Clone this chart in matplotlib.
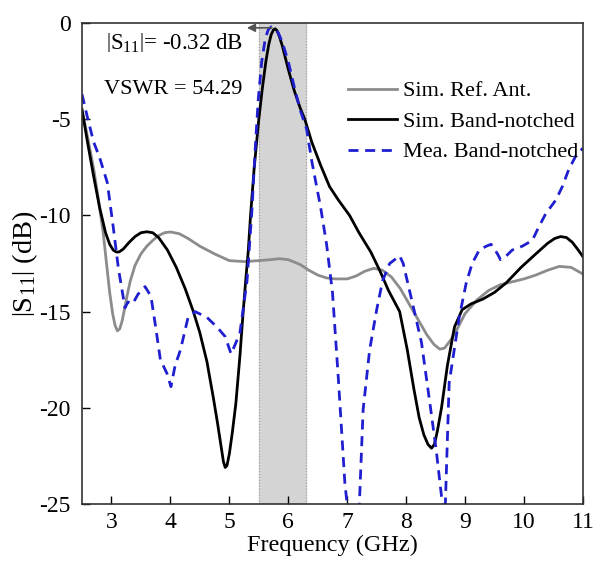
import numpy as np
import matplotlib
matplotlib.use('Agg')
import matplotlib.pyplot as plt

plt.rcParams['font.family'] = ['Liberation Serif', 'DejaVu Serif']
plt.rcParams['mathtext.fontset'] = 'custom'
plt.rcParams['mathtext.rm'] = 'Liberation Serif'
plt.rcParams['mathtext.it'] = 'Liberation Serif:italic'
plt.rcParams['axes.unicode_minus'] = False

# simulated reference antenna
ref_f = [2.5, 2.6, 2.7, 2.78, 2.86, 2.92, 2.97, 3.02, 3.06, 3.1, 3.14, 3.18, 3.22, 3.27, 3.32, 3.4,
         3.5, 3.6, 3.7, 3.8, 3.9, 4.0, 4.15, 4.3, 4.5, 4.75, 5.0, 5.25, 5.5, 5.7, 5.85, 6.0,
         6.2, 6.35, 6.5, 6.65, 6.8, 7.0, 7.15, 7.3, 7.45, 7.6, 7.75, 7.9, 8.05, 8.2, 8.35,
         8.47, 8.57, 8.65, 8.75, 8.85, 9.0, 9.2, 9.4, 9.6, 9.8, 10.0, 10.2, 10.4, 10.6, 10.8, 11.0]
ref_s = [-4.5, -6.0, -7.6, -9.2, -10.9, -12.6, -14.0, -15.1, -15.7, -16.0, -15.9, -15.5, -14.9, -14.1, -13.4, -12.6,
         -12.0, -11.6, -11.3, -11.05, -10.9, -10.86, -10.95, -11.2, -11.6, -12.0, -12.35, -12.4, -12.35, -12.3, -12.25, -12.3,
         -12.55, -12.85, -13.1, -13.25, -13.3, -13.3, -13.15, -12.9, -12.75, -12.85, -13.2, -13.8, -14.6, -15.4, -16.2,
         -16.7, -16.95, -16.9, -16.5, -16.0, -15.1, -14.4, -13.9, -13.6, -13.45, -13.3, -13.1, -12.85, -12.65, -12.7, -13.05]

# simulated band-notched antenna
sim_f = [2.5, 2.6, 2.7, 2.8, 2.9, 2.97, 3.03, 3.08, 3.13, 3.2, 3.3, 3.4, 3.5, 3.6, 3.7, 3.8, 3.95,
         4.1, 4.25, 4.39, 4.5, 4.62, 4.73, 4.8, 4.86, 4.9, 4.93, 4.96, 5.0, 5.05, 5.11, 5.18,
         5.23, 5.28, 5.32, 5.36, 5.42, 5.5, 5.56, 5.62, 5.67, 5.71, 5.75, 5.78, 5.81, 5.85,
         5.9, 6.0, 6.1, 6.2, 6.28, 6.4, 6.55, 6.7, 6.85, 7.04, 7.2, 7.4, 7.55, 7.7, 7.89,
         8.02, 8.13, 8.22, 8.3, 8.37, 8.43, 8.48, 8.53, 8.6, 8.7, 8.82, 8.95, 9.1, 9.3, 9.5,
         9.7, 9.95, 10.2, 10.4, 10.52, 10.62, 10.72, 10.82, 10.92, 11.0]
sim_s = [-4.5, -6.3, -8.0, -9.6, -10.9, -11.5, -11.8, -11.9, -11.9, -11.75, -11.4, -11.1, -10.9, -10.85, -10.9, -11.15, -11.8,
         -12.7, -13.8, -15.0, -16.1, -17.6, -19.5, -20.8, -22.0, -22.8, -23.1, -23.0, -22.4, -21.3, -19.8, -17.3,
         -15.2, -13.3, -11.9, -10.0, -7.6, -5.0, -3.4, -2.0, -1.1, -0.6, -0.35, -0.3, -0.4, -0.7,
         -1.2, -2.4, -3.5, -4.4, -5.0, -6.2, -7.4, -8.5, -9.2, -10.0, -10.9, -11.9, -12.85, -13.9, -15.0,
         -17.0, -19.0, -20.5, -21.4, -21.9, -22.1, -21.9, -21.2, -20.0, -17.8, -15.8, -14.9, -14.6, -14.35, -14.0,
         -13.5, -12.7, -12.0, -11.45, -11.2, -11.1, -11.15, -11.4, -11.8, -12.15]

# measured band-notched antenna
mea_f = [2.5, 2.6, 2.7, 2.8, 2.93, 3.03, 3.12, 3.23, 3.28, 3.36, 3.45, 3.57, 3.67, 3.75, 3.83, 3.94,
         4.01, 4.08, 4.17, 4.3, 4.42, 4.62, 4.79, 4.93, 5.03, 5.1, 5.18, 5.3, 5.38, 5.44, 5.49,
         5.55, 5.61, 5.66, 5.71, 5.76, 5.83, 5.9, 6.0, 6.1, 6.2, 6.31, 6.4, 6.55, 6.65, 6.75, 6.85,
         6.96, 7.05, 7.12, 7.2, 7.27, 7.38, 7.5, 7.6, 7.72, 7.89, 7.95, 8.11, 8.26, 8.4, 8.51,
         8.6, 8.66, 8.73, 8.9, 9.02, 9.12, 9.24, 9.36, 9.44, 9.55, 9.6, 9.7, 9.8, 9.97, 10.14,
         10.25, 10.37, 10.54, 10.65, 10.76, 10.88, 11.0]
mea_s = [-3.7, -5.0, -6.2, -7.0, -8.3, -10.6, -12.8, -14.8, -14.5, -14.6, -14.1, -13.7, -14.2, -15.8, -17.5, -18.2,
         -18.9, -17.8, -17.0, -15.3, -15.0, -15.3, -15.8, -16.3, -17.2, -16.7, -16.1, -13.4, -9.9, -6.5, -4.0,
         -2.0, -0.8, -0.35, -0.2, -0.3, -0.5, -1.0, -2.0, -3.3, -4.5, -5.5, -7.2, -9.6, -11.5, -14.0, -18.5,
         -23.9, -26.5, -27.0, -25.5, -20.1, -17.0, -14.9, -13.4, -12.5, -12.1, -12.5, -14.6, -16.6, -19.7, -22.2,
         -24.6, -25.5, -18.7, -15.3, -13.5, -12.5, -11.8, -11.6, -11.5, -12.0, -12.3, -12.1, -11.8, -11.6, -11.3,
         -10.6, -9.9, -9.2, -8.5, -7.6, -6.9, -6.5]

notch_band = [5.5, 6.3]
x_ticks = [3, 4, 5, 6, 7, 8, 9, 10, 11]
y_ticks = [0, -5, -10, -15, -20, -25]

fig = plt.figure(figsize=(6.01, 5.67), dpi=100)
ax = fig.add_axes([0.1364, 0.1111, 0.8336, 0.8483])

ax.axvspan(notch_band[0], notch_band[1], color='#d4d4d4', zorder=0)
for xb in notch_band:
    ax.axvline(xb, color='#9a9a9a', lw=0.8, ls=':', zorder=0)

ax.plot(ref_f, ref_s, color='#8c8c8c', lw=2, label='Sim. Ref. Ant.', solid_joinstyle='round')
ax.plot(sim_f, sim_s, color='black', lw=2, label='Sim. Band-notched', solid_joinstyle='round')
ax.plot(mea_f, mea_s, color='#1f1fd0', lw=2, ls=(0, (3.6, 2.4)), label='Mea. Band-notched')

ax.set_xlim(2.5, 11)
ax.set_ylim(-25, 0)
ax.set_xticks(x_ticks)
ax.set_yticks(y_ticks)
ax.tick_params(direction='in', length=6, width=1, labelsize=17)
ax.tick_params(axis='x', pad=6)
ax.tick_params(axis='y', pad=8)
for sp in ax.spines.values():
    sp.set_color('#333333')
    sp.set_linewidth(1.2)

ax.set_xlabel('Frequency (GHz)', fontsize=17.5, labelpad=1)
ax.set_ylabel(r'$\left|\mathrm{S}_{11}\right|$ (dB)', fontsize=20.5)
ax.yaxis.set_label_coords(-0.084, 0.5)

# peak marker
ax.annotate('', xy=(5.25, -0.25), xytext=(5.77, -0.25),
            arrowprops=dict(arrowstyle='-|>', color='#555555', lw=1.2, mutation_scale=12))
ax.text(2.9, -1.04, r'$\left|\mathrm{S}_{11}\right|$= -0.32 dB', fontsize=16.5, va='center', ha='left')
ax.text(2.88, -3.45, 'VSWR = 54.29', fontsize=16, va='center', ha='left')

ax.legend(loc='upper left', bbox_to_anchor=(0.531, 0.88), frameon=False, fontsize=16,
          handlelength=2.2, handletextpad=0.27, labelspacing=0.45, borderpad=0, borderaxespad=0)

fig.savefig('out.png', dpi=100)
